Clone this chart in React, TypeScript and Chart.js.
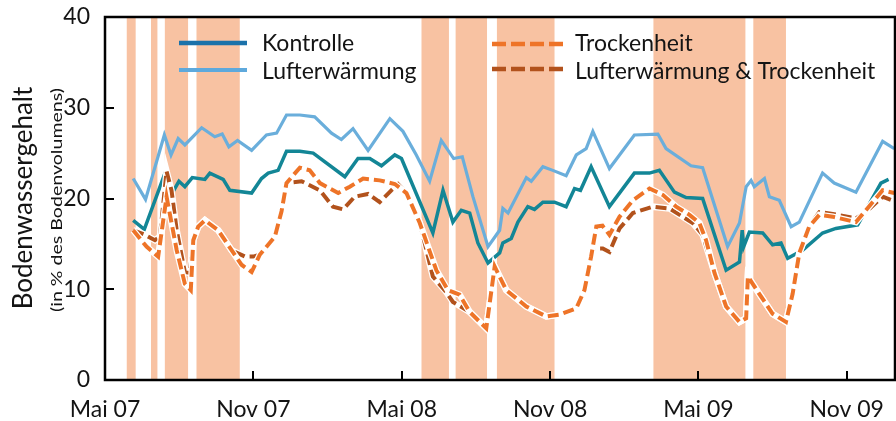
import { useEffect, useRef } from "react";
import { Chart, registerables } from "chart.js";
Chart.register(...registerables);

// x values are months since 1 May 2007
const tickMonths = [0, 6, 12, 18, 24, 30];
const tickLabels = ["Mai 07", "Nov 07", "Mai 08", "Nov 08", "Mai 09", "Nov 09"];
const yTicks = [0, 10, 20, 30, 40];
const xMax = 31.95;

const droughtStart = [0.88, 1.86, 2.42, 3.7, 12.8, 14.18, 15.85, 22.18, 26.22];
const droughtEnd = [1.24, 2.12, 3.36, 5.45, 13.91, 15.45, 18.18, 25.9, 27.54];

const lwX = [1.14,1.64,2.40,2.67,2.96,3.23,3.91,4.44,4.74,5.01,5.36,5.93,6.53,6.94,7.34,7.88,8.48,9.16,9.56,10.03,10.64,11.52,12.05,12.59,13.13,13.60,14.10,14.45,14.88,15.49,15.96,16.09,16.30,17.04,17.24,17.71,18.11,18.65,19.06,19.46,19.73,20.40,21.41,22.36,22.69,23.70,24.17,25.18,25.66,25.93,26.13,26.26,26.67,26.87,27.27,27.75,28.08,29.02,29.49,30.37,31.45,31.92];
const lwV = [22.2,19.9,27.0,24.8,26.6,25.9,27.8,26.8,27.1,25.7,26.4,25.3,27.0,27.2,29.2,29.2,29.0,27.2,26.5,27.7,25.3,28.8,27.4,24.8,21.9,26.4,24.4,24.6,20.2,14.7,16.5,18.9,18.4,22.3,21.9,23.5,23.1,22.5,24.8,25.5,27.4,23.3,27.0,27.1,25.5,23.6,23.4,14.7,17.3,21.3,22.0,21.3,22.2,20.2,19.8,16.9,17.4,22.8,21.7,20.7,26.3,25.5];

const kX = [1.14,1.59,2.36,2.55,2.99,3.23,3.53,4.04,4.24,4.78,5.05,5.93,6.33,6.60,7.00,7.34,7.88,8.42,9.70,10.23,10.71,11.18,11.72,11.99,13.26,13.67,14.07,14.41,14.75,15.08,15.49,15.96,16.09,16.43,16.70,17.10,17.37,17.71,18.18,18.65,18.99,19.23,19.66,20.40,21.41,22.02,22.42,23.03,23.50,24.17,25.12,25.66,25.77,25.83,26.06,26.60,27.00,27.34,27.61,28.21,29.02,29.56,30.44,31.38,31.69];
const kV = [17.6,16.6,22.3,19.8,21.9,21.3,22.3,22.1,22.8,22.1,20.9,20.6,22.2,22.8,23.1,25.2,25.2,25.0,22.4,24.4,24.4,23.6,24.8,24.4,16.2,20.9,17.4,18.7,18.4,15.1,12.9,14.0,15.1,15.6,17.4,19.1,18.8,19.6,19.6,19.1,21.1,20.9,23.5,19.1,22.8,22.8,23.1,20.7,20.1,20.0,12.1,13.0,16.5,14.7,16.3,16.2,14.9,15.1,13.4,14.3,16.2,16.7,17.1,21.7,22.1];

const tX = [1.14,1.68,2.15,2.49,2.90,3.23,3.47,3.57,3.77,4.04,4.58,5.12,5.52,5.93,6.26,6.87,7.14,7.34,7.88,8.28,8.69,9.43,9.90,10.44,11.11,11.72,12.19,12.73,13.40,13.87,14.34,14.75,15.42,15.76,16.23,17.04,17.85,18.38,19.06,19.39,19.66,19.87,20.12,20.40,20.81,21.35,22.02,22.56,23.10,23.64,24.04,24.31,24.65,25.12,25.66,25.93,26.00,26.46,27.00,27.54,27.81,28.08,28.48,28.89,29.43,30.37,30.77,31.45,31.92];
const tV = [16.5,14.7,13.6,20.2,14.3,10.6,9.9,15.4,16.9,17.6,16.5,14.3,12.7,11.9,13.8,15.8,18.6,21.7,23.4,23.1,21.7,20.6,21.3,22.2,22.0,21.6,20.6,17.3,12.1,9.9,9.4,7.5,5.7,12.5,9.9,8.1,7.0,7.2,7.9,9.9,13.6,16.9,17.0,16.0,18.0,19.8,21.1,20.4,19.1,18.2,17.3,15.4,11.8,8.1,6.4,6.8,11.4,9.5,7.3,6.4,9.5,14.0,16.9,18.2,18.0,17.4,18.7,20.9,20.6];

const ltX = [1.14,1.62,2.02,2.22,2.49,2.69,2.90,3.23,3.43,3.57,3.77,4.04,4.58,5.12,5.66,5.99,6.26,6.87,7.14,7.34,7.95,8.69,9.22,9.63,10.10,10.64,11.11,11.58,11.85,12.19,12.73,13.26,13.80,14.07,14.75,15.42,15.76,16.23,17.04,17.85,18.38,19.06,19.39,19.73,20.13,20.40,20.81,21.35,22.15,22.83,23.77,24.17,24.65,25.12,25.66,25.93,26.00,26.46,27.00,27.54,27.81,28.08,28.48,28.89,29.43,30.37,30.77,31.45,31.92];
const ltV = [16.5,16.0,15.4,15.8,23.0,20.9,16.5,11.9,11.8,15.4,16.9,17.6,16.5,14.3,13.6,13.6,13.8,15.8,18.6,21.7,21.9,20.9,19.1,18.8,20.2,20.5,19.6,20.9,21.6,20.6,17.3,11.4,9.7,8.6,7.5,5.7,12.5,9.9,8.1,7.0,7.2,7.9,9.9,14.5,14.5,14.1,16.7,18.4,19.1,18.9,17.3,16.0,11.8,8.1,6.4,6.8,11.4,9.5,7.3,6.4,9.5,14.0,16.9,18.5,18.3,17.8,18.5,20.2,19.7];

const seriesNames = ["Kontrolle", "Lufterwärmung", "Trockenheit", "Lufterwärmung & Trockenheit"];
const yTitle = "Bodenwassergehalt";
const ySubTitle = "(in % des Bodenvolumens)";

const FONT = "Lato, 'Open Sans', sans-serif";
const C_K = "#138696";
const C_LW = "#6aaedb";
const C_T = "#ee7428";
const C_LT = "#b2521c";
const C_SHADE = "#f8c2a2";
const C_TEXT = "#141414";

const pts = (xs: number[], vs: number[]) => xs.map((x, i) => ({ x, y: vs[i] }));

const decorPlugin = {
  id: "decor",
  beforeDatasetsDraw(chart: any) {
    const { ctx, chartArea, scales } = chart;
    ctx.save();
    ctx.fillStyle = C_SHADE;
    for (let i = 0; i < droughtStart.length; i++) {
      const a = scales.x.getPixelForValue(droughtStart[i]);
      const b = scales.x.getPixelForValue(droughtEnd[i]);
      ctx.fillRect(a, chartArea.top, b - a, chartArea.bottom - chartArea.top);
    }
    ctx.restore();
  },
  afterDatasetsDraw(chart: any) {
    const { ctx, chartArea, scales } = chart;
    const { left, right, top, bottom } = chartArea;
    ctx.save();
    // legend
    const drawLeg = (x1: number, x2: number, y: number, color: string, w: number, dash: number[]) => {
      ctx.beginPath();
      ctx.setLineDash(dash);
      ctx.strokeStyle = color;
      ctx.lineWidth = w;
      ctx.lineCap = "butt";
      ctx.moveTo(x1, y);
      ctx.lineTo(x2, y);
      ctx.stroke();
    };
    drawLeg(179, 247, 43, "#1b72aa", 4.5, []);
    drawLeg(179, 247, 70, "#5ea9dc", 4, []);
    drawLeg(492, 563, 44, C_T, 4.5, [14, 5]);
    drawLeg(492, 563, 69, C_LT, 4.5, [14, 5]);
    ctx.setLineDash([]);
    ctx.fillStyle = C_TEXT;
    ctx.font = `23px ${FONT}`;
    ctx.textAlign = "left";
    ctx.textBaseline = "alphabetic";
    ctx.fillText(seriesNames[0], 262, 51);
    ctx.fillText(seriesNames[1], 262, 79);
    ctx.fillText(seriesNames[2], 575, 51);
    ctx.fillText(seriesNames[3], 575, 79);

    // frame
    ctx.strokeStyle = "#000";
    ctx.lineWidth = 2.5;
    ctx.strokeRect(left, top, right - left, bottom - top);
    // inward ticks
    ctx.lineWidth = 2;
    ctx.beginPath();
    for (const m of tickMonths) {
      if (m === 0) continue;
      const px = Math.round(scales.x.getPixelForValue(m));
      ctx.moveTo(px, bottom);
      ctx.lineTo(px, bottom - 9);
    }
    for (const v of yTicks) {
      if (v === 0 || v === 40) continue;
      const py = Math.round(scales.y.getPixelForValue(v));
      ctx.moveTo(left, py);
      ctx.lineTo(left + 9, py);
    }
    ctx.stroke();

    // y titles
    const cy = 198;
    ctx.save();
    ctx.translate(32, cy);
    ctx.rotate(-Math.PI / 2);
    ctx.textAlign = "center";
    ctx.textBaseline = "alphabetic";
    ctx.font = `26px ${FONT}`;
    ctx.fillText(yTitle, 0, 0);
    ctx.restore();

    ctx.save();
    ctx.translate(61.5, cy + 2);
    ctx.rotate(-Math.PI / 2);
    ctx.font = `16px ${FONT}`;
    const w = ctx.measureText(ySubTitle).width;
    const s = 224 / w;
    ctx.scale(s, 1);
    ctx.textAlign = "center";
    ctx.textBaseline = "alphabetic";
    ctx.fillText(ySubTitle, 0, 0);
    ctx.restore();

    ctx.restore();
  },
};

export default function App() {
  const ref = useRef<HTMLCanvasElement>(null);
  useEffect(() => {
    document.body.style.margin = "0";
    const canvas = ref.current!;
    const solid = (label: string, xs: number[], vs: number[], color: string, w: number, order: number) => ({
      label,
      data: pts(xs, vs),
      borderColor: color,
      backgroundColor: color,
      borderWidth: w,
      pointRadius: 0,
      tension: 0,
      fill: false,
      order,
    });
    const dashed = (label: string, xs: number[], vs: number[], color: string, order: number) => ({
      ...solid(label, xs, vs, color, 4, order),
      borderDash: [11, 5],
    });
    const chart = new Chart(canvas, {
      type: "line",
      data: {
        datasets: [
          dashed(seriesNames[2], tX, tV, C_T, 1),
          solid("halo1", tX, tV, "#ffffff", 6.5, 2),
          dashed(seriesNames[3], ltX, ltV, C_LT, 3),
          solid("halo2", ltX, ltV, "#ffffff", 6.5, 4),
          solid(seriesNames[0], kX, kV, C_K, 3.5, 5),
          solid(seriesNames[1], lwX, lwV, C_LW, 3.2, 6),
        ] as any,
      },
      options: {
        animation: false,
        responsive: false,
        devicePixelRatio: 1,
        layout: { padding: { left: 0, right: 1, top: 17, bottom: 0 } },
        plugins: { legend: { display: false }, tooltip: { enabled: false }, title: { display: false } },
        scales: {
          x: {
            type: "linear",
            min: 0,
            max: xMax,
            grid: { display: false, drawTicks: false },
            border: { display: false },
            afterBuildTicks: (s: any) => {
              s.ticks = tickMonths.map((v) => ({ value: v }));
            },
            afterFit: (s: any) => {
              s.height = 41;
              s.paddingLeft = 0;
              s.paddingRight = 0;
            },
            ticks: {
              autoSkip: false,
              maxRotation: 0,
              padding: 16,
              color: C_TEXT,
              font: { family: FONT, size: 23 },
              callback: (v: any) => {
                const i = tickMonths.indexOf(Number(v));
                return i >= 0 ? tickLabels[i] : "";
              },
            },
          },
          y: {
            min: 0,
            max: 40,
            grid: { display: false, drawTicks: false },
            border: { display: false },
            afterBuildTicks: (s: any) => {
              s.ticks = yTicks.map((v) => ({ value: v }));
            },
            afterFit: (s: any) => {
              s.width = 105;
              s.paddingTop = 0;
              s.paddingBottom = 0;
            },
            ticks: {
              padding: 15,
              color: C_TEXT,
              font: { family: FONT, size: 23 },
            },
          },
        },
      },
      plugins: [decorPlugin],
    } as any);
    return () => chart.destroy();
  }, []);
  return (
    <div style={{ width: 896, height: 421, position: "relative" }}>
      <canvas ref={ref} width={896} height={421} style={{ display: "block", width: 896, height: 421 }} />
    </div>
  );
}
